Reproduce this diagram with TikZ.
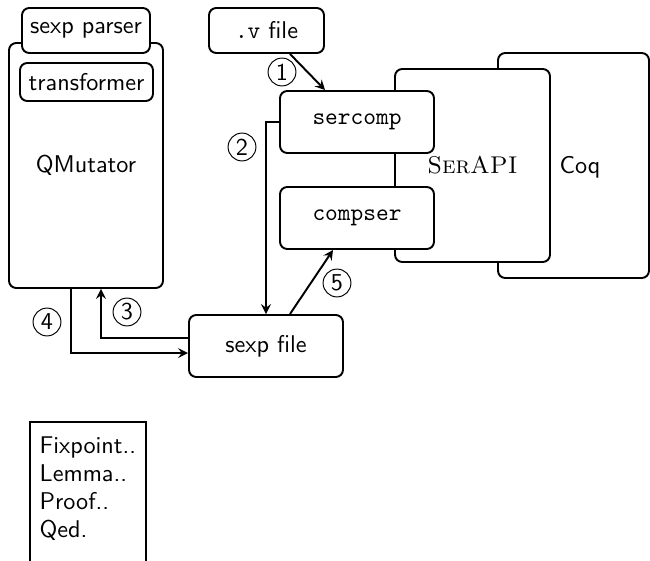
\documentclass[tikz,border=0pt]{standalone}
\usetikzlibrary{arrows}
\begin{document}
\begin{tikzpicture}[x=0.413pt,y=-0.413pt,
  every node/.style={font=\sffamily},
  box/.style={draw,thick,rounded corners=3pt,fill=white,inner sep=0pt},
  num/.style={draw,circle,minimum size=11.5pt,inner sep=0.5pt},
  arr/.style={thick,-stealth}]
  \useasboundingbox (0,0) rectangle (650,560);
  % QMutator e i suoi moduli
  \node[box,minimum width=154*0.413pt,minimum height=245*0.413pt] (qmut) at (86,165.5) {QMutator};
  \node[box,minimum width=128*0.413pt,minimum height=45*0.413pt] (parser) at (86,30.5) {sexp parser};
  \node[box,minimum width=133*0.413pt,minimum height=38*0.413pt] (trans) at (86.5,82) {transformer};

  % Coq sotto SerAPI
  \node[box,minimum width=151*0.413pt,minimum height=225*0.413pt] (coq) at (573.5,165.5) {};
  \node (coqtxt) at (580,167) {Coq};
  \node[box,minimum width=155*0.413pt,minimum height=193*0.413pt,font=\rmfamily] (serapi) at (472.5,165.5) {\textsc{SerAPI}};
  \node[box,minimum width=154*0.413pt,minimum height=62*0.413pt] (sercomp) at (357,122) {\texttt{sercomp}};
  \node[box,minimum width=154*0.413pt,minimum height=62*0.413pt] (compser) at (357,218) {\texttt{compser}};

  \node[box,minimum width=115*0.413pt,minimum height=45*0.413pt] (vfile) at (266.5,30.5) {\texttt{.v} file};
  \node[box,minimum width=154*0.413pt,minimum height=62*0.413pt] (sexp) at (266,346) {sexp file};

  \node[draw,thick,anchor=north west,align=left,inner xsep=4pt,inner ysep=6pt,text width=40pt] (proof) at (29,421) {Fixpoint..\\[-0.4pt]Lemma..\\[-0.4pt]Proof..\\[-0.4pt]Qed.\\\strut\\\strut};

  % frecce
  \draw[arr] ([xshift=9.7pt]vfile.south) -- ([xshift=-13.2pt]sercomp.north);
  \draw[arr] (sercomp.west) -| (sexp.north);
  \draw[arr] ([yshift=3.3pt]sexp.west) -| ([xshift=6.2pt]qmut.south);
  \draw[arr] ([xshift=-6.2pt]qmut.south) |- ([yshift=-2.9pt]sexp.west);
  \draw[arr] ([xshift=9.9pt]sexp.north) -- ([xshift=-9.9pt]compser.south);

  \node[num] (n1) at (282,72) {1};
  \node[num] (n2) at (242,147) {2};
  \node[num] (n3) at (127,312) {3};
  \node[num] (n4) at (47,322) {4};
  \node[num] (n5) at (337,283) {5};
\end{tikzpicture}
\end{document}
